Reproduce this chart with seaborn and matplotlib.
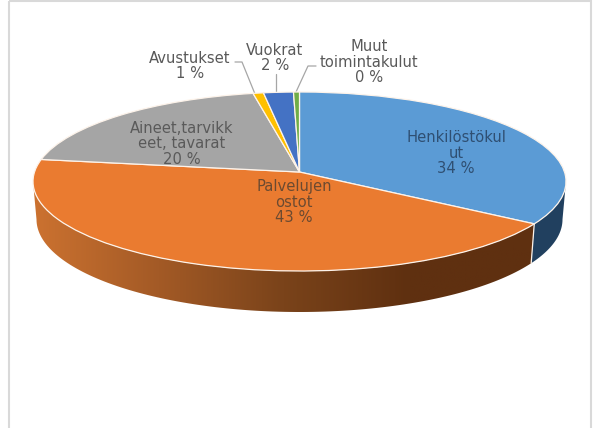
import numpy as np
import matplotlib
matplotlib.use('Agg')
import matplotlib.pyplot as plt
import seaborn as sns
from matplotlib.colors import LinearSegmentedColormap
from matplotlib.patches import Polygon, Rectangle
from matplotlib.transforms import Transform

# data (labels show the rounded percentages)
categories = ['Henkilöstökul\nut', 'Palvelujen\nostot', 'Aineet,tarvikk\neet, tavarat',
              'Avustukset', 'Vuokrat', 'Muut\ntoimintakulut']
shares = [34.3, 43.0, 19.6, 0.7, 2.0, 0.4]
colors = ['#5b9bd5', '#ea7b30', '#a5a5a5', '#ffc000', '#4472c4', '#70ad47']
label_colors = ['#2f4f72', '#6b4a30', '#5a5a5a', '#595959', '#595959', '#595959']
label_pos = [(456, 153), (294, 202), (182, 144), (190, 66), (275, 58), (369, 62)]

# top face of the disc in pixels, apex sits a bit above the ellipse centre (perspective)
CX, CY, A, B = 299.5, 181.5, 266.5, 89.5
APEX_SHIFT = 0.106
# bottom rim of the disc
CX2, CY2, A2, B2 = 299.5, 219.4, 263.0, 92.6


class DiscToScreen(Transform):
    input_dims = 2
    output_dims = 2

    def transform_non_affine(self, values):
        x, y = np.asarray(values).T
        d = 1 + APEX_SHIFT * y
        xp = x * np.sqrt(1 - APEX_SHIFT ** 2) / d
        yp = (y + APEX_SHIFT) / d
        return np.column_stack([CX + A * xp, CY - B * yp])


warp = DiscToScreen()


def screen_angle(fraction):
    # fraction of the pie, clockwise from top -> angle on the drawn ellipse
    t = np.pi / 2 - 2 * np.pi * fraction
    px, py = warp.transform_non_affine(np.array([[np.cos(t), np.sin(t)]]))[0]
    return np.arctan2((CY - py) / B, (px - CX) / A)


def side_poly(phi_from, phi_to):
    phi = np.linspace(phi_from, phi_to, 120)
    top = np.column_stack([CX + A * np.cos(phi), CY - B * np.sin(phi)])
    bottom = np.column_stack([CX2 + A2 * np.cos(phi), CY2 - B2 * np.sin(phi)])
    return np.vstack([top, bottom[::-1]]), top[0], bottom[0]


sns.set_theme(style='white')
plt.rcParams['font.family'] = ['DejaVu Sans']
fig = plt.figure(figsize=(5.93, 4.28), dpi=100)
ax = fig.add_axes([0, 0, 1, 1])

wedges, _ = ax.pie(shares, colors=sns.color_palette(colors), startangle=90, counterclock=False,
                   wedgeprops={'edgecolor': '#fdf3ea', 'linewidth': 0.9, 'zorder': 5})
for w in wedges:
    w.set_transform(warp + ax.transData)

ax.set_aspect('auto')
ax.set_xlim(0, 593)
ax.set_ylim(428, 0)
ax.axis('off')

# outer frame of the chart area
ax.add_patch(Rectangle((9, 1), 582, 440, fill=False, edgecolor='#d9d9d9', linewidth=1.5, zorder=1))

# side of the disc, only the two front slices show
total = sum(shares)
phi_b = screen_angle(shares[0] / total)

side_orange = LinearSegmentedColormap.from_list('side_orange', ['#cc7230', '#a35a26', '#7a431a', '#5f3010', '#5f3010'])
xy, top_pt, bottom_pt = side_poly(phi_b, -np.pi)
poly = Polygon(xy, closed=True, facecolor='none', edgecolor='none', zorder=2)
ax.add_patch(poly)
im = ax.imshow(np.linspace(0, 1, 256)[None, :], extent=(33, 534, 330, 170), cmap=side_orange,
               aspect='auto', zorder=2)
im.set_clip_path(poly)

xy2, _, _ = side_poly(0, phi_b)
ax.add_patch(Polygon(xy2, closed=True, facecolor='#21405f', edgecolor='none', zorder=2))
ax.plot([top_pt[0], bottom_pt[0]], [top_pt[1], bottom_pt[1]], color='#fdf3ea', lw=0.9, zorder=3)

ax.set_xlim(0, 593)
ax.set_ylim(428, 0)

for cat, share, col, (x, y) in zip(categories, shares, label_colors, label_pos):
    ax.text(x, y, f'{cat}\n{round(share)} %', ha='center', va='center', fontsize=10.6,
            color=col, linespacing=1.07, zorder=6)

# leader lines for the small slices
leaders = [([235, 242, 255], [62, 62, 94]), ([276, 276], [74, 93]), ([316, 308, 296], [66, 66, 92])]
for lx, ly in leaders:
    ax.plot(lx, ly, color='#a6a6a6', lw=0.9, zorder=4)

fig.savefig('out.png', dpi=100)
